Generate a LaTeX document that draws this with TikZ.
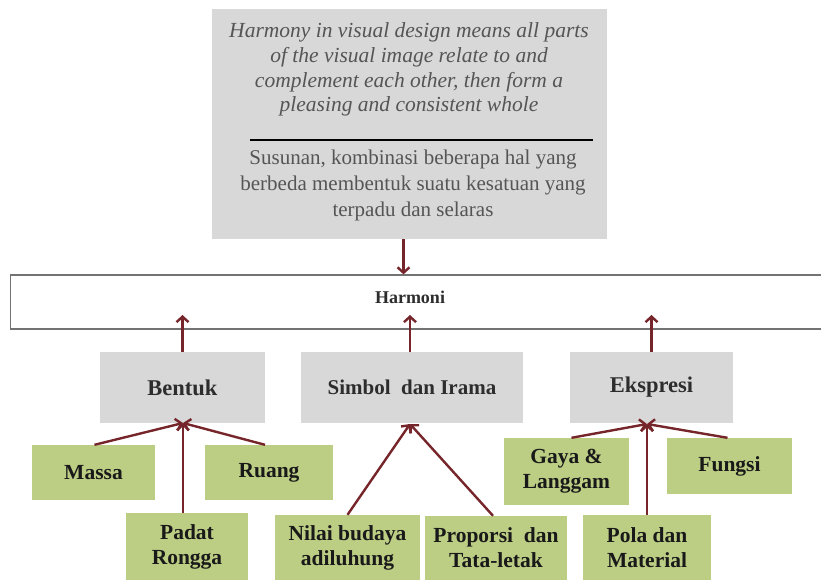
\documentclass[tikz,border=0pt]{standalone}
\usepackage{fontspec}
\setmainfont{Liberation Serif}
\usetikzlibrary{arrows.meta}
\definecolor{boxgray}{RGB}{216,216,216}
\definecolor{leaf}{RGB}{188,205,132}
\definecolor{arr}{RGB}{118,38,42}
\definecolor{txtgray}{RGB}{85,85,85}
\definecolor{lbl}{RGB}{45,45,45}
\begin{document}
\begin{tikzpicture}[x=1pt,y=-1pt,
  graybox/.style={fill=boxgray, draw=none, inner sep=0pt, text=lbl,
    font=\bfseries\fontsize{22.5}{26}\selectfont},
  leafbox/.style={fill=leaf, draw=none, inner sep=0pt, align=center, text=black!90,
    font=\bfseries\fontsize{21.5}{25}\selectfont},
  conn/.style={draw=arr, line width=2.4pt, -{Straight Barb[length=5.5pt,width=12pt]}}]
\useasboundingbox (0,0) rectangle (821,580);

% top description box
\node[fill=boxgray, inner sep=0pt, minimum width=395, minimum height=230] (top) at (409.5,124) {};
\node[font=\itshape\fontsize{21.5}{24.7}\selectfont, text=txtgray, align=center] (en) at (409,69.5)
  {Harmony in visual design means all parts\\ of the visual image relate to and\\ complement each other, then form a\\ pleasing and consistent whole};
\coordinate (ruleL) at (250,140);
\coordinate (ruleR) at (593,140);
\draw[line width=1.6pt] (ruleL) -- (ruleR);
\node[font=\fontsize{21}{26}\selectfont, text=txtgray, align=center] (id) at (413,185)
  {Susunan, kombinasi beberapa hal yang\\ berbeda membentuk suatu kesatuan yang\\ terpadu dan selaras};

% Harmoni band
\node[draw=black!55, line width=1.2pt, fill=white, inner sep=0pt, minimum width=830, minimum height=54, anchor=west] (harm) at (10,302) {};
\node[font=\bfseries\fontsize{18}{22}\selectfont, text=lbl] (harmtxt) at (410,297) {Harmoni};
\coordinate (hy) at (0,315);

% gray category boxes
\node[graybox, minimum width=165, minimum height=71] (bentuk) at (182.5,387.5) {Bentuk};
\node[graybox, minimum width=222, minimum height=71, font=\bfseries\fontsize{21}{24}\selectfont] (simbol) at (412,387.5) {Simbol\ \ dan Irama};
\node[graybox, minimum width=163, minimum height=71] (ekspresi) at (651.5,387.5) {Ekspresi};

% green leaf boxes
\node[leafbox, minimum width=123, minimum height=55] (massa) at (93.5,472.5) {Massa};
\node[leafbox, minimum width=128, minimum height=55] (ruang) at (269,472.5) {Ruang};
\node[leafbox, minimum width=122, minimum height=67] (padat) at (187,546.5) {Padat\\Rongga};
\node[leafbox, minimum width=145, minimum height=65] (nilai) at (347.5,547.5) {Nilai budaya\\adiluhung};
\node[leafbox, minimum width=142, minimum height=64] (proporsi) at (496,548) {Proporsi\ \ dan\\Tata-letak};
\node[leafbox, minimum width=125, minimum height=67] (gaya) at (566.5,471.5) {Gaya \&\\Langgam};
\node[leafbox, minimum width=125, minimum height=56] (fungsi) at (729.5,466) {Fungsi};
\node[leafbox, minimum width=128, minimum height=65] (pola) at (647,547.5) {Pola dan\\Material};

% connectors
\draw[conn] ([xshift=-6]top.south) -- ([xshift=-6]top.south |- harm.north);
\draw[conn] (bentuk.north) -- (bentuk.north |- hy);
\draw[conn] ([xshift=-2]simbol.north) -- ([xshift=-2]simbol.north |- hy);
\draw[conn] (ekspresi.north) -- (ekspresi.north |- hy);

\coordinate (bj) at (183,423);
\coordinate (sj) at (410,424);
\coordinate (ej) at (647,424);
\draw[conn] ([xshift=1]massa.north) -- (bj);
\draw[conn] ([xshift=-4]ruang.north) -- (bj);
\draw[conn] ([xshift=-4]padat.north) -- (bj);
\draw[conn] (nilai.north) -- (sj);
\draw[conn] ([xshift=-3]proporsi.north) -- (sj);
\draw[conn] ([xshift=5]gaya.north) -- (ej);
\draw[conn] ([xshift=-2]fungsi.north) -- (ej);
\draw[conn] (pola.north) -- (ej);
\end{tikzpicture}
\end{document}
